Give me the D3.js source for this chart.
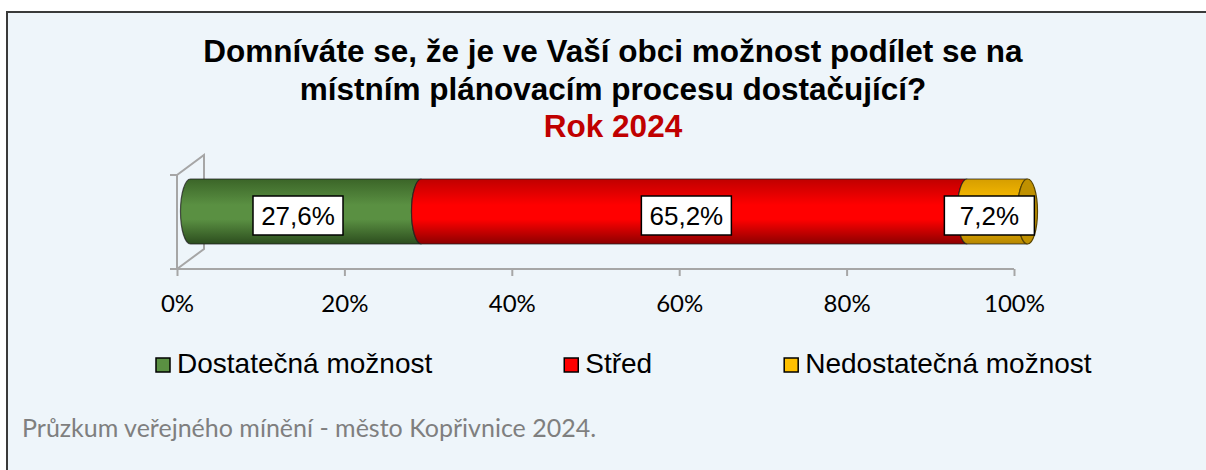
<!DOCTYPE html>
<html>
<head>
<meta charset="utf-8">
<script src="https://cdn.jsdelivr.net/npm/d3@7"></script>
<style type="text/css">
	body { margin: 0; background: #ffffff; }
	.title { font-family: "Liberation Sans", Arial, sans-serif; font-weight: bold; font-size: 31.5px; text-anchor: middle; }
	.lbl { font-family: "Liberation Sans", Arial, sans-serif; font-size: 26px; text-anchor: middle; }
	.leg { font-family: "Liberation Sans", Arial, sans-serif; font-size: 28px; }
	.tick text { font-family: Lato, "Open Sans", sans-serif; font-size: 24px; fill: #000; }
	.foot { font-family: Lato, "Open Sans", sans-serif; font-size: 25px; fill: #7f7f7f; }
</style>
</head>
<body>
<div id=chart></div>
<script>

// data
var categories = ['Dostatečná možnost', 'Střed', 'Nedostatečná možnost'];
var values = [27.6, 65.2, 7.2];
var valueLabels = ['27,6%', '65,2%', '7,2%'];
var tickValues = [0, 20, 40, 60, 80, 100];
var titleLines = ['Domníváte se, že je ve Vaší obci možnost podílet se na', 'místním plánovacím procesu dostačující?'];
var subTitle = 'Rok 2024';
var footer = 'Průzkum veřejného mínění - město Kopřivnice 2024.';

// colours: [edge, middle, dark edge]
var colors = [
	['#3b6528', '#5a9042', '#2c4d1e'],
	['#c00000', '#ff0000', '#8c0000'],
	['#d69e00', '#ffc000', '#b58600']
];

var W = 1206, H = 470;
var svg = d3.select('#chart').append('svg')
	.attr('width', W).attr('height', H);

// frame
svg.append('rect').attr('x', 7).attr('y', 12).attr('width', W - 7).attr('height', H - 12)
	.attr('fill', '#eef5fa');
svg.append('path').attr('d', 'M7,' + H + ' L7,12 L' + W + ',12')
	.attr('fill', 'none').attr('stroke', '#3a3a3a').attr('stroke-width', 2);

// title
svg.selectAll('text.title').data(titleLines).enter().append('text')
	.attr('class', 'title')
	.attr('x', 613).attr('y', function(d, i) { return 62 + i * 38; })
	.text(function(d) { return d; });
svg.append('text').attr('class', 'title').attr('fill', '#c00000')
	.attr('x', 613).attr('y', 137).text(subTitle);

// scales
var x = d3.scaleLinear().domain([0, 100]).range([177, 1014]);
var floorY = 269, wallTop = 175;
var depthX = 27, depthY = -20;
var cy = 211.5, ry = 32.5, rx = 10;
var off = depthX / 2;

// side wall and category axis
var g = svg.append('g');
g.append('path')
	.attr('d', 'M' + x(0) + ',' + floorY + ' L' + (x(0) + depthX) + ',' + (floorY + depthY)
		+ ' L' + (x(0) + depthX) + ',' + (wallTop + depthY) + ' L' + x(0) + ',' + wallTop)
	.attr('fill', 'none').attr('stroke', '#a6a6a6').attr('stroke-width', 2);
g.append('path')
	.attr('d', 'M' + (x(0) - 7) + ',' + wallTop + ' L' + x(0) + ',' + wallTop + ' L' + x(0) + ',' + floorY)
	.attr('fill', 'none').attr('stroke', '#a6a6a6').attr('stroke-width', 2);

// x axis
var axis = svg.append('g')
	.attr('transform', 'translate(0,' + floorY + ')')
	.call(d3.axisBottom(x).tickValues(tickValues).tickSize(7).tickSizeOuter(0).tickPadding(19)
		.tickFormat(function(d) { return d + '%'; }));
axis.select('.domain').attr('stroke', '#a6a6a6').attr('stroke-width', 2)
	.attr('d', 'M' + (x(0) - 7) + ',0 H' + x(100));
axis.selectAll('.tick line').attr('stroke', '#a6a6a6').attr('stroke-width', 2);
axis.selectAll('.tick text').attr('dy', '0.71em');

// gradients
var defs = svg.append('defs');
colors.forEach(function(c, i) {
	var gr = defs.append('linearGradient').attr('id', 'grad' + i)
		.attr('x1', 0).attr('y1', 0).attr('x2', 0).attr('y2', 1);
	gr.append('stop').attr('offset', '0%').attr('stop-color', c[0]);
	gr.append('stop').attr('offset', '40%').attr('stop-color', c[1]);
	gr.append('stop').attr('offset', '62%').attr('stop-color', c[1]);
	gr.append('stop').attr('offset', '100%').attr('stop-color', c[2]);
});

// stacked segments
var starts = [];
var acc = 0;
values.forEach(function(v) { starts.push(acc); acc += v; });

function segPath(a, b) {
	var x0 = x(a) + off, x1 = x(b) + off;
	return 'M' + x0 + ',' + (cy - ry) + ' L' + x1 + ',' + (cy - ry)
		+ ' A' + rx + ',' + ry + ' 0 0 0 ' + x1 + ',' + (cy + ry)
		+ ' L' + x0 + ',' + (cy + ry)
		+ ' A' + rx + ',' + ry + ' 0 0 1 ' + x0 + ',' + (cy - ry) + ' Z';
}

svg.selectAll('path.seg').data(values).enter().append('path')
	.attr('class', 'seg')
	.attr('d', function(d, i) { return segPath(starts[i], starts[i] + d); })
	.attr('fill', function(d, i) { return 'url(#grad' + i + ')'; })
	.attr('stroke', '#1f1f1f').attr('stroke-opacity', 0.75).attr('stroke-width', 1.2);

// end cap
var last = values.length - 1;
svg.append('ellipse')
	.attr('cx', x(starts[last] + values[last]) + off).attr('cy', cy)
	.attr('rx', rx).attr('ry', ry)
	.attr('fill', '#bf9000').attr('stroke', '#5a4500').attr('stroke-width', 1.2);

// data labels
var labels = svg.selectAll('g.lbl').data(values).enter().append('g')
	.attr('transform', function(d, i) { return 'translate(' + (x(starts[i] + d / 2) + off - 8) + ',' + (cy + 4) + ')'; });
labels.append('rect')
	.attr('x', -45).attr('y', -19.5).attr('width', 90).attr('height', 39)
	.attr('fill', '#ffffff').attr('stroke', '#000').attr('stroke-width', 1.5);
labels.append('text').attr('class', 'lbl')
	.attr('y', 9.5)
	.text(function(d, i) { return valueLabels[i]; });

// legend
var lx = 156;
categories.forEach(function(c, i) {
	var item = svg.append('g').attr('transform', 'translate(' + lx + ',358)');
	item.append('rect').attr('width', 14).attr('height', 14)
		.attr('fill', colors[i][1]).attr('stroke', '#000').attr('stroke-width', 1.5);
	var t = item.append('text').attr('class', 'leg')
		.attr('x', 21).attr('y', 15).text(c);
	lx += 21 + t.node().getComputedTextLength() + 132;
});

// footer
svg.append('text').attr('class', 'foot').attr('x', 22).attr('y', 437).text(footer);

</script>
</body>
</html>
